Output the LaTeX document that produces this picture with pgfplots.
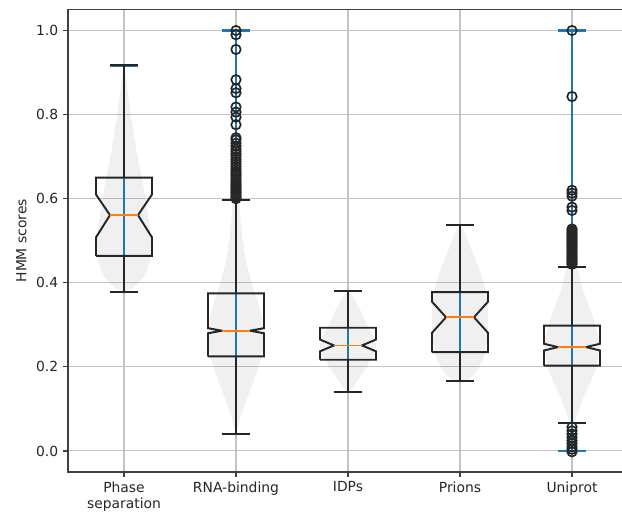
\documentclass[border=0pt]{standalone}
\usepackage{pgfplots}
\pgfplotsset{compat=1.18}
\usepackage{pgfplotstable}
\usepackage{fontspec}
\setmainfont{DejaVu Sans}
\definecolor{mblue}{HTML}{1F77B4}
\definecolor{morange}{HTML}{FF7F0E}
\definecolor{gridc}{HTML}{C4C4C4}

% violin outlines: value v, half-width w
\pgfplotstableread{
v w
0.378 0
0.385 0.06
0.40 0.13
0.42 0.19
0.45 0.23
0.48 0.245
0.50 0.245
0.55 0.22
0.60 0.19
0.65 0.16
0.70 0.12
0.75 0.09
0.80 0.06
0.85 0.035
0.90 0.012
0.917 0
}\phaseV
\pgfplotstableread{
v w
0.041 0
0.06 0.02
0.09 0.05
0.12 0.09
0.16 0.15
0.20 0.20
0.24 0.24
0.28 0.25
0.32 0.23
0.36 0.19
0.40 0.14
0.45 0.09
0.50 0.06
0.55 0.04
0.60 0.03
0.65 0.02
0.70 0.015
0.80 0.01
0.90 0.006
1.00 0
}\rnaV
\pgfplotstableread{
v w
0.141 0
0.15 0.04
0.17 0.09
0.20 0.17
0.23 0.23
0.25 0.25
0.27 0.23
0.30 0.17
0.33 0.12
0.35 0.08
0.37 0.04
0.380 0
}\idpV
\pgfplotstableread{
v w
0.166 0
0.17 0.08
0.19 0.15
0.22 0.21
0.26 0.24
0.30 0.25
0.35 0.25
0.38 0.23
0.42 0.19
0.46 0.13
0.50 0.07
0.52 0.04
0.537 0
}\prionV
\pgfplotstableread{
v w
0.0 0
0.04 0.01
0.08 0.035
0.12 0.09
0.16 0.16
0.20 0.22
0.25 0.25
0.30 0.21
0.34 0.16
0.38 0.10
0.42 0.06
0.46 0.035
0.50 0.02
0.55 0.01
0.60 0.006
0.70 0.003
1.00 0
}\uniV

\begin{document}
\begin{tikzpicture}
\begin{axis}[
  scale only axis, width=403.2pt, height=333pt,
  xmin=0.5, xmax=5.5, ymin=-0.05, ymax=1.05,
  xtick={1,2,3,4,5},
  xticklabels={{Phase\\separation},RNA-binding,IDPs,Prions,Uniprot},
  xticklabel style={align=center},
  ytick={0,0.2,0.4,0.6,0.8,1.0},
  yticklabel style={/pgf/number format/.cd, fixed, fixed zerofill, precision=1},
  /pgf/number format/assume math mode=true,
  ylabel={HMM scores},
  grid=major, major grid style={gridc, line width=0.75pt},
  tick align=outside, tick pos=left, major tick length=3.5pt,
  axis line style={line width=0.8pt, black!75},
  tick style={black!75, line width=0.8pt},
  ticklabel style={font=\fontsize{10}{12}\selectfont, text=black!85},
  label style={font=\fontsize{10}{12}\selectfont, text=black!85},
]
\coordinate (SW) at (rel axis cs:0,0);
\coordinate (NE) at (rel axis cs:1,1);

% violins
\pgfplotsset{violin/.style={fill=black, fill opacity=0.06, draw=none, forget plot}}
\addplot[violin] table[x expr=1+\thisrow{w}, y=v]{\phaseV};
\addplot[violin] table[x expr=1-\thisrow{w}, y=v]{\phaseV};
\addplot[violin] table[x expr=2+\thisrow{w}, y=v]{\rnaV};
\addplot[violin] table[x expr=2-\thisrow{w}, y=v]{\rnaV};
\addplot[violin] table[x expr=3+\thisrow{w}, y=v]{\idpV};
\addplot[violin] table[x expr=3-\thisrow{w}, y=v]{\idpV};
\addplot[violin] table[x expr=4+\thisrow{w}, y=v]{\prionV};
\addplot[violin] table[x expr=4-\thisrow{w}, y=v]{\prionV};
\addplot[violin] table[x expr=5+\thisrow{w}, y=v]{\uniV};
\addplot[violin] table[x expr=5-\thisrow{w}, y=v]{\uniV};

% violin extrema (blue)
\pgfplotsset{vext/.style={mblue, line width=1.6pt, forget plot}}
\addplot[vext] coordinates {(1,0.378) (1,0.917)};
\addplot[vext] coordinates {(0.875,0.378) (1.125,0.378)};
\addplot[vext] coordinates {(0.875,0.917) (1.125,0.917)};
\addplot[vext] coordinates {(2,0.041) (2,1.0)};
\addplot[vext] coordinates {(1.875,0.041) (2.125,0.041)};
\addplot[vext] coordinates {(1.875,1.0) (2.125,1.0)};
\addplot[vext] coordinates {(3,0.141) (3,0.380)};
\addplot[vext] coordinates {(2.875,0.141) (3.125,0.141)};
\addplot[vext] coordinates {(2.875,0.380) (3.125,0.380)};
\addplot[vext] coordinates {(4,0.166) (4,0.537)};
\addplot[vext] coordinates {(3.875,0.166) (4.125,0.166)};
\addplot[vext] coordinates {(3.875,0.537) (4.125,0.537)};
\addplot[vext] coordinates {(5,0.0) (5,1.0)};
\addplot[vext] coordinates {(4.875,0.0) (5.125,0.0)};
\addplot[vext] coordinates {(4.875,1.0) (5.125,1.0)};

% notched boxes
\pgfplotsset{bx/.style={black!85, line width=1.4pt, forget plot}}
\addplot[bx] coordinates {(0.75,0.464) (0.75,0.508) (0.875,0.561) (0.75,0.610) (0.75,0.650) (1.25,0.650) (1.25,0.610) (1.125,0.561) (1.25,0.508) (1.25,0.464) (0.75,0.464)};
\addplot[bx] coordinates {(1.75,0.225) (1.75,0.280) (1.875,0.286) (1.75,0.292) (1.75,0.375) (2.25,0.375) (2.25,0.292) (2.125,0.286) (2.25,0.280) (2.25,0.225) (1.75,0.225)};
\addplot[bx] coordinates {(2.75,0.217) (2.75,0.237) (2.875,0.251) (2.75,0.265) (2.75,0.293) (3.25,0.293) (3.25,0.265) (3.125,0.251) (3.25,0.237) (3.25,0.217) (2.75,0.217)};
\addplot[bx] coordinates {(3.75,0.235) (3.75,0.281) (3.875,0.318) (3.75,0.355) (3.75,0.378) (4.25,0.378) (4.25,0.355) (4.125,0.318) (4.25,0.281) (4.25,0.235) (3.75,0.235)};
\addplot[bx] coordinates {(4.75,0.203) (4.75,0.239) (4.875,0.247) (4.75,0.255) (4.75,0.298) (5.25,0.298) (5.25,0.255) (5.125,0.247) (5.25,0.239) (5.25,0.203) (4.75,0.203)};

% whiskers and caps
\addplot[bx] coordinates {(1,0.650) (1,0.917)};
\addplot[bx] coordinates {(1,0.464) (1,0.378)};
\addplot[bx] coordinates {(0.875,0.917) (1.125,0.917)};
\addplot[bx] coordinates {(0.875,0.378) (1.125,0.378)};
\addplot[bx] coordinates {(2,0.375) (2,0.598)};
\addplot[bx] coordinates {(2,0.225) (2,0.041)};
\addplot[bx] coordinates {(1.875,0.598) (2.125,0.598)};
\addplot[bx] coordinates {(1.875,0.041) (2.125,0.041)};
\addplot[bx] coordinates {(3,0.293) (3,0.380)};
\addplot[bx] coordinates {(3,0.217) (3,0.141)};
\addplot[bx] coordinates {(2.875,0.380) (3.125,0.380)};
\addplot[bx] coordinates {(2.875,0.141) (3.125,0.141)};
\addplot[bx] coordinates {(4,0.378) (4,0.537)};
\addplot[bx] coordinates {(4,0.235) (4,0.166)};
\addplot[bx] coordinates {(3.875,0.537) (4.125,0.537)};
\addplot[bx] coordinates {(3.875,0.166) (4.125,0.166)};
\addplot[bx] coordinates {(5,0.298) (5,0.437)};
\addplot[bx] coordinates {(5,0.203) (5,0.067)};
\addplot[bx] coordinates {(4.875,0.437) (5.125,0.437)};
\addplot[bx] coordinates {(4.875,0.067) (5.125,0.067)};

% medians
\pgfplotsset{md/.style={morange, line width=1.3pt, forget plot}}
\addplot[md] coordinates {(0.875,0.561) (1.125,0.561)};
\addplot[md] coordinates {(1.875,0.286) (2.125,0.286)};
\addplot[md] coordinates {(2.875,0.251) (3.125,0.251)};
\addplot[md] coordinates {(3.875,0.318) (4.125,0.318)};
\addplot[md] coordinates {(4.875,0.247) (5.125,0.247)};

% fliers
\pgfplotsset{fl/.style={only marks, mark=o, mark size=3.4pt, black!85, mark options={line width=1.2pt}, forget plot}}
\addplot[fl] coordinates {(2,0.600)(2,0.604)(2,0.608)(2,0.612)(2,0.616)(2,0.620)(2,0.624)(2,0.628)(2,0.632)(2,0.636)(2,0.640)(2,0.645)(2,0.650)(2,0.655)(2,0.660)(2,0.665)(2,0.670)(2,0.676)(2,0.682)(2,0.688)(2,0.694)(2,0.700)(2,0.706)(2,0.712)(2,0.718)(2,0.725)(2,0.732)(2,0.740)(2,0.745)(2,0.776)(2,0.794)(2,0.806)(2,0.818)(2,0.852)(2,0.862)(2,0.883)(2,0.955)(2,0.99)(2,1.0)};
\addplot[fl] coordinates {(5,1.0)(5,0.843)(5,0.620)(5,0.613)(5,0.606)(5,0.580)(5,0.572)(5,0.528)(5,0.524)(5,0.520)(5,0.516)(5,0.512)(5,0.508)(5,0.504)(5,0.500)(5,0.496)(5,0.492)(5,0.488)(5,0.484)(5,0.480)(5,0.476)(5,0.472)(5,0.468)(5,0.464)(5,0.460)(5,0.456)(5,0.452)(5,0.448)(5,0.444)(5,0.057)(5,0.048)(5,0.040)(5,0.032)(5,0.025)(5,0.018)(5,0.010)(5,0.004)(5,-0.002)};
\end{axis}
\pgfresetboundingbox
\path[use as bounding box] ([xshift=-48.96pt, yshift=-30.96pt]SW) rectangle ([xshift=-4.32pt, yshift=6.84pt]NE);
\end{tikzpicture}
\end{document}
